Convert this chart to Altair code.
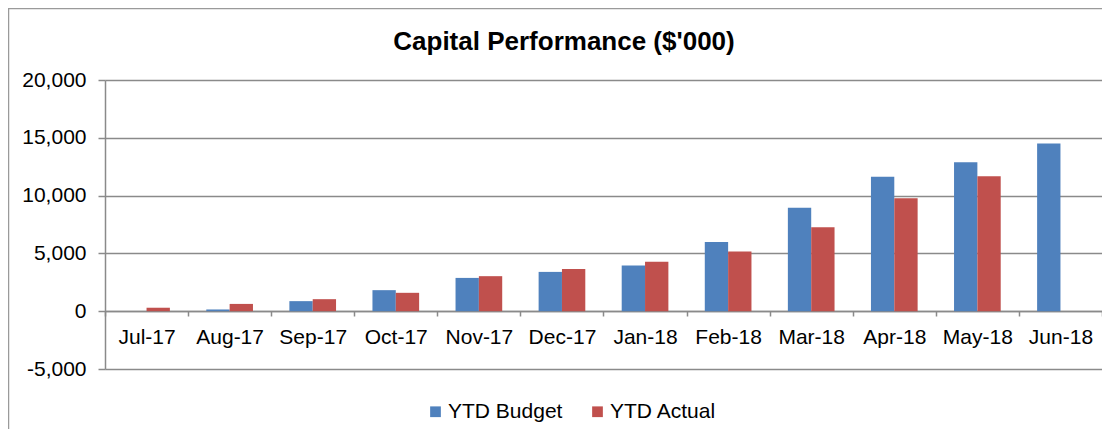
import altair as alt
import pandas as pd

months = ["Jul-17", "Aug-17", "Sep-17", "Oct-17", "Nov-17", "Dec-17",
          "Jan-18", "Feb-18", "Mar-18", "Apr-18", "May-18", "Jun-18"]
ytd_budget = [0, 150, 870, 1820, 2880, 3400, 3960, 5980, 8940, 11640, 12890, 14500]
ytd_actual = [300, 630, 1040, 1590, 3030, 3640, 4280, 5170, 7260, 9780, 11670, None]
series = ["YTD Budget", "YTD Actual"]
colors = ["#4F81BD", "#C0504D"]
y_ticks = [-5000, 0, 5000, 10000, 15000, 20000]

rows = []
for m, b, a in zip(months, ytd_budget, ytd_actual):
    rows.append({"month": m, "series": series[0], "value": b})
    if a is not None:
        rows.append({"month": m, "series": series[1], "value": a})
df = pd.DataFrame(rows)

FONT = "Liberation Sans"
GRID = "#8a8a8a"

bars = alt.Chart(df).mark_bar().encode(
    x=alt.X("month:N", sort=months, title=None,
            scale=alt.Scale(paddingInner=0, paddingOuter=0),
            axis=alt.Axis(orient="bottom", offset=-58, labelAngle=0,
                          labelFont=FONT, labelFontSize=21, labelColor="#000000",
                          labelPadding=10, tickBand="extent", ticks=True,
                          tickSize=5, tickColor=GRID, tickWidth=1.5,
                          domainColor=GRID, domainWidth=1.5, grid=False)),
    xOffset=alt.XOffset("series:N", sort=series,
                        scale=alt.Scale(paddingInner=0, paddingOuter=0.78)),
    y=alt.Y("value:Q", title=None,
            scale=alt.Scale(domain=[-5000, 20000], nice=False),
            axis=alt.Axis(values=y_ticks, format=",d",
                          labelExpr="replace(datum.label, '\u2212', '-')",
                          labelFont=FONT, labelFontSize=21, labelColor="#000000",
                          labelPadding=12, tickSize=7, tickColor=GRID, tickWidth=1.5,
                          domainColor=GRID, domainWidth=1.5,
                          grid=True, gridColor=GRID, gridWidth=1.5)),
    color=alt.Color("series:N", sort=series,
                    scale=alt.Scale(domain=series, range=colors),
                    legend=alt.Legend(title=None, orient="none", direction="horizontal",
                                      legendX=320, legendY=321, padding=0,
                                      symbolType="square", symbolSize=115,
                                      symbolStrokeWidth=0, symbolOpacity=1,
                                      labelFont=FONT, labelFontSize=21,
                                      labelColor="#000000", labelOffset=2,
                                      columnPadding=24)),
)

border = alt.Chart(pd.DataFrame({"b": [0]})).mark_rect(
    fill=None, stroke="#9a9a9a", strokeWidth=1.5
).encode(x=alt.value(-96.5), x2=alt.value(1050), y=alt.value(-71.5), y2=alt.value(400))

chart = alt.layer(border, bars).properties(
    width=997, height=289,
    title=alt.TitleParams("Capital Performance ($'000)", font=FONT, fontSize=26,
                          fontWeight="bold", color="#000000", anchor="middle",
                          frame="group", baseline="alphabetic",
                          dx=-39.5, offset=-68),
    autosize=alt.AutoSizeParams(type="none"),
    padding={"left": 97, "top": 72, "right": 0, "bottom": 60},
).configure_view(stroke=None)

chart.save("out.html", embed_options={"renderer": "svg", "actions": False})
